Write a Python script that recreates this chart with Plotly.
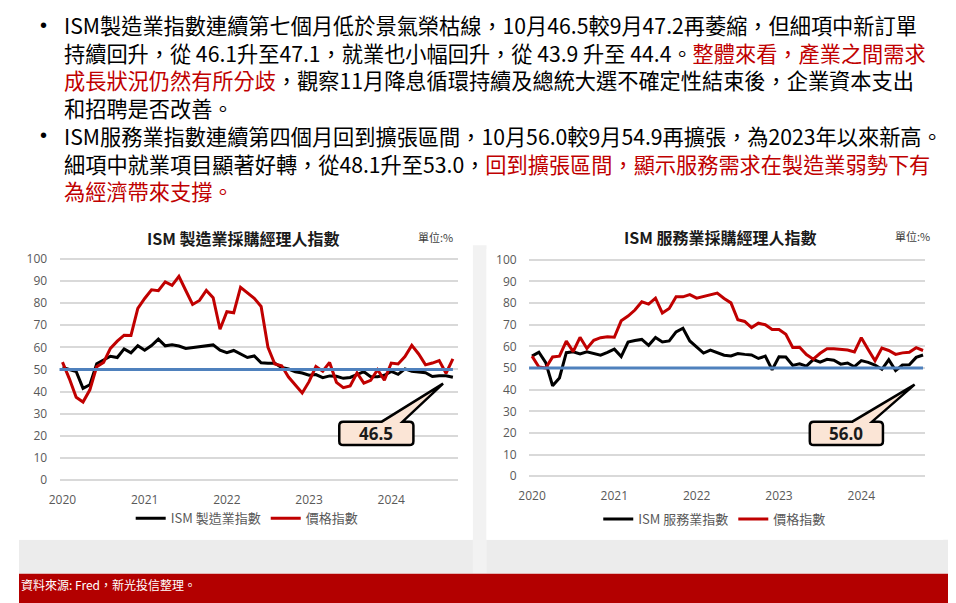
import plotly.graph_objects as go

# ---- data (monthly, Jan 2020 - Oct 2024) ----
years = ['2020', '2021', '2022', '2023', '2024']

ism_mfg = [50.9, 50.1, 49.1, 41.5, 43.1, 52.6, 54.2, 56.0, 55.4, 59.3, 57.5, 60.7,
           58.7, 60.8, 63.7, 60.7, 61.2, 60.6, 59.5, 59.9, 60.5, 60.8, 61.1, 58.7,
           57.6, 58.6, 57.1, 55.4, 56.1, 53.0, 52.8, 52.8, 50.9, 50.2, 49.0, 48.4,
           47.4, 47.7, 46.3, 47.1, 46.9, 46.0, 46.4, 47.6, 49.0, 46.7, 46.7, 47.4,
           49.1, 47.8, 50.3, 49.2, 48.7, 48.5, 46.8, 47.2, 47.2, 46.5]
mfg_prices = [53.3, 45.9, 37.4, 35.3, 40.8, 51.3, 53.2, 59.5, 62.8, 65.5, 65.4, 77.6,
              82.1, 86.0, 85.6, 89.6, 88.0, 92.1, 85.7, 79.4, 81.2, 85.7, 82.4, 68.2,
              76.1, 75.6, 87.1, 84.6, 82.2, 78.5, 60.0, 52.5, 51.7, 46.6, 43.0, 39.4,
              44.5, 51.3, 49.2, 53.2, 44.2, 41.8, 42.6, 48.4, 43.8, 45.1, 49.9, 45.2,
              52.9, 52.5, 55.8, 60.9, 57.0, 52.1, 52.9, 54.0, 48.3, 54.8]
ism_svc = [55.5, 57.3, 52.5, 41.8, 45.4, 57.1, 57.5, 56.5, 57.5, 56.6, 55.9, 57.2,
           58.7, 55.3, 62.0, 62.7, 63.2, 60.5, 64.1, 62.0, 62.5, 66.7, 68.4, 62.5,
           59.9, 56.9, 58.3, 57.1, 55.9, 55.6, 56.7, 56.3, 56.0, 54.4, 55.5, 49.2,
           55.2, 55.1, 51.2, 51.9, 50.9, 53.9, 52.7, 54.0, 53.6, 51.8, 52.3, 50.6,
           53.4, 52.6, 51.4, 49.4, 53.8, 48.8, 51.4, 51.5, 54.9, 56.0]
svc_prices = [55.5, 50.5, 50.0, 55.1, 55.5, 62.4, 57.6, 64.2, 59.0, 62.8, 64.0, 64.4,
              64.2, 71.8, 74.0, 76.8, 80.6, 79.5, 82.3, 75.4, 77.5, 82.9, 82.9, 83.9,
              82.3, 83.1, 83.8, 84.6, 82.1, 80.1, 72.3, 71.5, 68.7, 70.7, 70.0, 67.8,
              67.8, 65.6, 59.5, 59.6, 56.2, 54.1, 56.8, 58.9, 58.9, 58.6, 58.3, 57.4,
              64.0, 58.6, 53.4, 59.2, 58.1, 56.3, 57.0, 57.3, 59.4, 58.1]
months = list(range(len(ism_mfg)))
threshold = 50

W, H = 956, 603
OFF = 8  # page body margin: the figure is drawn 8px right/down of the window corner
RED = '#c00000'
GREY = '#595959'


# positions below are written in window pixels, converted to paper coords here
def px(x):
    return (x - OFF) / W


def py(y):
    return 1 - (y - OFF) / H


def callout(x0, x1, y0, y1, xa, xb, tx, ty, r=4):
    pts = [('M', x0 + r, y0), ('L', xa, y0), ('L', tx, ty), ('L', xb, y0), ('L', x1 - r, y0),
           ('Q', x1, y0, x1, y0 + r), ('L', x1, y1 - r), ('Q', x1, y1, x1 - r, y1),
           ('L', x0 + r, y1), ('Q', x0, y1, x0, y1 - r), ('L', x0, y0 + r), ('Q', x0, y0, x0 + r, y0)]
    s = ''
    for p in pts:
        nums = p[1:]
        coords = []
        for i in range(0, len(nums), 2):
            coords.append('%.5f,%.5f' % (px(nums[i]), py(nums[i + 1])))
        s += p[0] + ' ' + ' '.join(coords) + ' '
    return s + 'Z'


fig = go.Figure()

# chart 1 - manufacturing
fig.add_trace(go.Scatter(x=months, y=ism_mfg, name='ISM 製造業指數', mode='lines',
                         line=dict(color='black', width=3), xaxis='x', yaxis='y', legend='legend'))
fig.add_trace(go.Scatter(x=months, y=mfg_prices, name='價格指數', mode='lines',
                         line=dict(color=RED, width=3), xaxis='x', yaxis='y', legend='legend'))
# chart 2 - services
fig.add_trace(go.Scatter(x=months, y=ism_svc, name='ISM 服務業指數', mode='lines',
                         line=dict(color='black', width=3), xaxis='x2', yaxis='y2', legend='legend2'))
fig.add_trace(go.Scatter(x=months, y=svc_prices, name='價格指數', mode='lines',
                         line=dict(color=RED, width=3), xaxis='x2', yaxis='y2', legend='legend2'))

axfont = dict(family='Open Sans, Noto Sans', size=12, color=GREY)
xcommon = dict(tickvals=[0, 12, 24, 36, 48], ticktext=years, showgrid=False, zeroline=False,
               ticks='outside', ticklen=7, tickcolor='rgba(0,0,0,0)', tickfont=axfont, fixedrange=True)
ycommon = dict(range=[-0.5, 100.5], tickvals=list(range(0, 101, 10)), showgrid=True,
               gridcolor='#d9d9d9', gridwidth=1.5, zeroline=False, ticks='outside', ticklen=9,
               tickcolor='rgba(0,0,0,0)', tickfont=axfont, fixedrange=True)
legfont = dict(family='Noto Sans CJK TC', size=13, color=GREY)

fig.update_layout(
    width=W, height=H, margin=dict(l=0, r=0, t=0, b=0),
    paper_bgcolor='white', plot_bgcolor='rgba(0,0,0,0)',
    xaxis=dict(domain=[px(49), px(452)], range=[-0.43, 57.73], anchor='y', **xcommon),
    yaxis=dict(domain=[py(485.1), py(255.9)], anchor='x', **ycommon),
    xaxis2=dict(domain=[px(524), px(925)], range=[-0.43, 57.35], anchor='y2', **xcommon),
    yaxis2=dict(domain=[py(481.1), py(256.9)], anchor='x2', **ycommon),
    legend=dict(orientation='h', x=px(121), y=py(523), yanchor='middle', xanchor='left',
                font=legfont, itemwidth=30, bgcolor='rgba(0,0,0,0)'),
    legend2=dict(orientation='h', x=px(594), y=py(524), yanchor='middle', xanchor='left',
                 font=legfont, itemwidth=30, bgcolor='rgba(0,0,0,0)'),
)

shapes = [
    dict(type='rect', xref='paper', yref='paper', x0=0, x1=1, y0=py(580), y1=py(545),
         fillcolor='#ececec', line_width=0, layer='below'),
    dict(type='rect', xref='paper', yref='paper', x0=px(467), x1=px(481), y0=py(580), y1=py(243),
         fillcolor='#f2f2f2', line_width=0, layer='below'),
    dict(type='rect', xref='paper', yref='paper', x0=0, x1=px(467), y0=py(545), y1=py(243),
         fillcolor='white', line_width=0, layer='below'),
    dict(type='rect', xref='paper', yref='paper', x0=px(481), x1=px(943), y0=py(545), y1=py(247),
         fillcolor='white', line_width=0, layer='below'),
    # 50 line
    dict(type='line', xref='x', yref='y', x0=-0.9, x1=57, y0=threshold, y1=threshold,
         line=dict(color='#4f81bd', width=3)),
    dict(type='line', xref='x2', yref='y2', x0=-1.4, x1=57, y0=threshold, y1=threshold,
         line=dict(color='#4f81bd', width=3)),
    # callouts
    dict(type='path', xref='paper', yref='paper',
         path=callout(332, 407, 424, 448, 375, 396, 437, 385),
         fillcolor='#fbe5d6', line=dict(color='black', width=2.5)),
    dict(type='path', xref='paper', yref='paper',
         path=callout(808, 882, 424, 448, 851, 871, 914, 386),
         fillcolor='#fbe5d6', line=dict(color='black', width=2.5)),
    # footer bar
    dict(type='rect', xref='paper', yref='paper', x0=0, x1=1, y0=0, y1=py(580),
         fillcolor='#b30000', line_width=0),
]
fig.update_layout(shapes=shapes)

cjk = 'Noto Sans CJK TC'
ann = []


def text(x, y, s, size, color='black', anchor='left', bold=False, family=cjk):
    if bold:
        s = '<b>' + s + '</b>'
    ann.append(dict(xref='paper', yref='paper', x=px(x), y=py(y), text=s, showarrow=False,
                    xanchor=anchor, yanchor='middle', align='left',
                    font=dict(family=family, size=size, color=color)))


def red(s):
    return "<span style='color:%s'>%s</span>" % (RED, s)


body = 21.2
bullet1 = [
    'ISM製造業指數連續第七個月低於景氣榮枯線，10月46.5較9月47.2再萎縮，但細項中新訂單',
    '持續回升，從 46.1升至47.1，就業也小幅回升，從 43.9 升至 44.4。' + red('整體來看，產業之間需求'),
    red('成長狀況仍然有所分歧') + '，觀察11月降息循環持續及總統大選不確定性結束後，企業資本支出',
    '和招聘是否改善。',
]
bullet2 = [
    'ISM服務業指數連續第四個月回到擴張區間，10月56.0較9月54.9再擴張，為2023年以來新高。',
    '細項中就業項目顯著好轉，從48.1升至53.0，' + red('回到擴張區間，顯示服務需求在製造業弱勢下有'),
    red('為經濟帶來支撐。'),
]
text(51, 59.5, '<br>'.join(bullet1), body)
text(51, 159, '<br>'.join(bullet2), body)
text(27, 17, '•', 20, family='Liberation Sans')
text(27, 130, '•', 20, family='Liberation Sans')

# chart titles and units
text(235, 236, 'ISM 製造業採購經理人指數', 16, '#1a1a1a', 'center', True)
text(718, 235, 'ISM 服務業採購經理人指數', 16, '#1a1a1a', 'center', True)
text(429, 235, '單位:%', 11, '#404040', 'center')
text(912, 234, '單位:%', 11, '#404040', 'center')

# callout labels from last values
text(369, 436, '%.1f' % ism_mfg[-1], 17, '#1a1a1a', 'center', True, 'Open Sans')
text(845, 436, '%.1f' % ism_svc[-1], 17, '#1a1a1a', 'center', True, 'Open Sans')

# footer
text(8, 591, '資料來源: Fred，新光投信整理。', 12, 'white')

fig.update_layout(annotations=ann)
fig.write_html('out.html')
